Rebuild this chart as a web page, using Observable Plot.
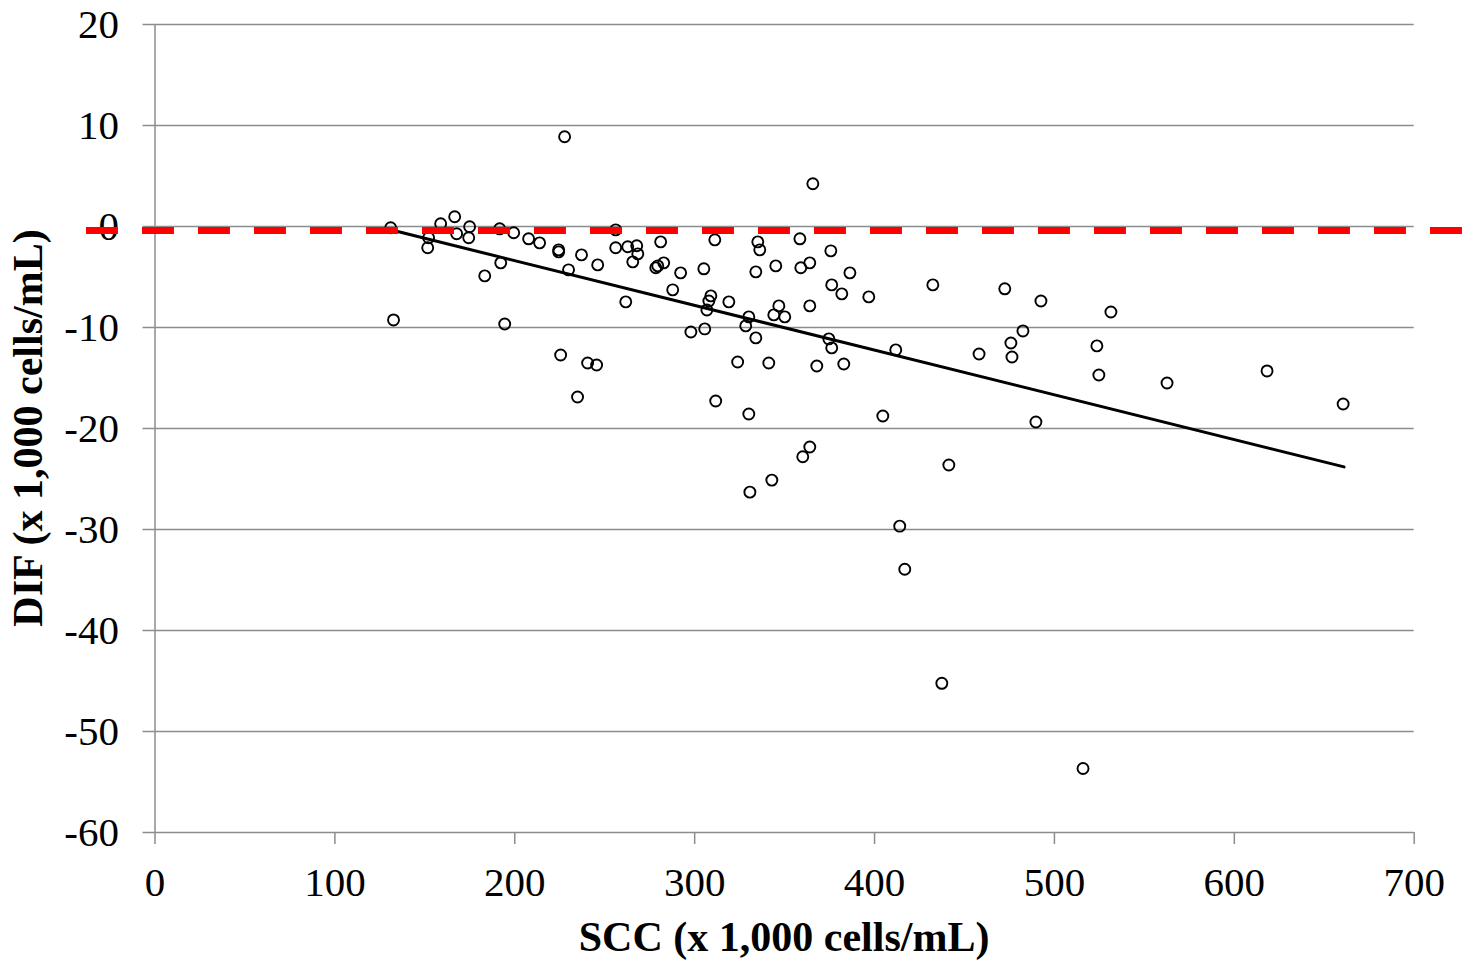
<!DOCTYPE html>
<html><head><meta charset="utf-8">
<script src="https://cdn.jsdelivr.net/npm/d3@7"></script>
<script src="https://cdn.jsdelivr.net/npm/@observablehq/plot@0.6"></script>
<style>html,body{margin:0;padding:0;background:#fff;} svg{display:block;}</style>
</head><body><div id="chart"></div>
<script>
const scc = [
  131.0,132.6,152.1,151.6,158.8,166.6,167.7,174.9,174.4,183.3,
  191.6,192.2,194.4,199.4,207.7,213.8,224.4,224.4,225.5,227.7,
  229.9,234.9,237.1,240.5,245.5,246.1,256.1,256.1,261.7,262.8,
  265.6,267.8,268.4,278.4,279.5,282.8,281.1,292.2,287.8,311.2,
  305.1,309.0,307.9,306.8,319.0,297.9,305.6,335.1,336.2,334.0,
  345.1,358.5,359.0,364.0,375.7,386.3,376.2,381.8,396.8,364.0,
  346.8,344.0,350.1,330.1,328.4,334.0,374.6,376.2,411.8,323.9,
  341.2,367.9,382.9,311.7,330.1,342.9,330.7,365.7,360.1,364.0,
  404.6,414.0,416.8,437.4,441.3,432.4,472.4,492.5,531.4,482.5,
  475.8,476.4,458.1,523.6,524.7,562.6,618.2,660.5,489.7,515.9
];
const dif = [
  -0.13,-9.25,-1.12,-2.11,0.27,0.96,-0.72,-0.03,-1.12,-4.89,
  -0.23,-3.6,-9.65,-0.62,-1.22,-1.62,-2.31,-2.51,-12.72,8.89,
  -4.29,-16.88,-2.81,-13.51,-13.71,-3.80,-0.33,-2.11,-7.46,-2.01,
  -3.50,-1.91,-2.71,-4.09,-3.90,-3.60,-1.52,-4.59,-6.27,-1.32,
  -4.19,-6.87,-7.37,-8.26,-7.46,-10.44,-10.14,-1.52,-2.31,-4.49,
  -3.90,-1.22,-4.09,-3.60,-2.41,-4.59,-5.78,-6.67,-6.97,-7.86,
  -7.86,-8.75,-8.95,-8.95,-9.84,-11.03,-11.13,-12.02,-12.22,-13.41,
  -13.51,-13.81,-13.61,-17.28,-18.57,-25.11,-26.30,4.23,-22.8,-21.83,
  -18.76,-29.67,-33.93,-45.23,-23.62,-5.78,-6.17,-7.37,-8.46,-10.34,
  -11.53,-12.92,-12.62,-11.82,-14.70,-15.50,-14.30,-17.57,-19.36,-53.66
];
const xTicks = [0, 100, 200, 300, 400, 500, 600, 700];
const yTicks = [-60, -50, -40, -30, -20, -10, 0, 10, 20];
const trendScc = [134.9, 661.0];
const trendDif = [-0.5, -23.8];
const refDif = -0.4;
const refSccRange = [-38.1, 727.2];
const xTitle = "SCC (x 1,000 cells/mL)";
const yTitle = "DIF (x 1,000 cells/mL)";

const points = scc.map((x, i) => ({scc: x, dif: dif[i]}));
const trend = trendScc.map((x, i) => ({scc: x, dif: trendDif[i]}));
const gray = "#8c8c8c";
const font = "'Liberation Serif','Times New Roman',serif";

const plot = Plot.plot({
  width: 1462, height: 961,
  marginLeft: 154.5, marginRight: 48.3, marginTop: 24, marginBottom: 129,
  style: {fontFamily: font, fontSize: "41px", color: "#000", background: "#fff", overflow: "visible"},
  x: {domain: [0, 700]},
  y: {domain: [-60, 20]},
  marks: [
    Plot.gridY(yTicks, {stroke: gray, strokeOpacity: 1, strokeWidth: 1.5}),
    Plot.ruleX([0], {stroke: gray, strokeWidth: 1.5}),
    Plot.axisY(yTicks, {tickSize: 12, tickPadding: 24, stroke: gray, strokeWidth: 1.5, strokeOpacity: 1,
      fill: "#000", fontSize: 41, fontFamily: font, tickFormat: d => String(d), label: null}),
    Plot.axisX(xTicks, {tickSize: 12, tickPadding: 22, stroke: gray, strokeWidth: 1.5, strokeOpacity: 1,
      fill: "#000", fontSize: 41, fontFamily: font, tickFormat: d => String(d), label: null}),
    Plot.dot(points, {x: "scc", y: "dif", r: 5.5, stroke: "#000", strokeWidth: 1.9, fill: "none"}),
    Plot.line(trend, {x: "scc", y: "dif", stroke: "#000", strokeWidth: 3}),
    Plot.ruleY([refDif], {y: d => d, x1: () => refSccRange[0], x2: () => refSccRange[1],
      stroke: "#ff0000", strokeWidth: 7, strokeDasharray: "32,24"})
  ]
});

const svg = d3.select(plot);
const xs = plot.scale("x"), ys = plot.scale("y");
svg.append("text")
  .attr("x", xs.apply(350)).attr("y", 951)
  .attr("text-anchor", "middle")
  .attr("font-family", font).attr("font-weight", "bold").attr("font-size", 42)
  .attr("fill", "#000")
  .text(xTitle);
svg.append("text")
  .attr("transform", `translate(42,${ys.apply(-20)}) rotate(-90)`)
  .attr("text-anchor", "middle")
  .attr("font-family", font).attr("font-weight", "bold").attr("font-size", 42)
  .attr("fill", "#000")
  .text(yTitle);

document.getElementById("chart").appendChild(plot);
</script>
</body></html>
